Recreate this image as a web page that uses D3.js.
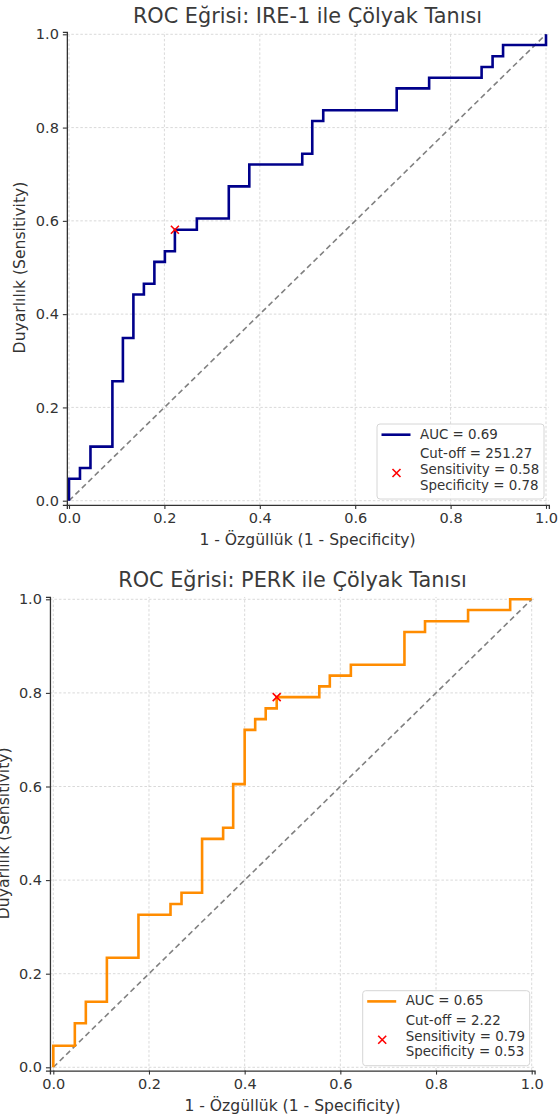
<!DOCTYPE html>
<html>
<head>
<meta charset="utf-8">
<script src="https://cdn.jsdelivr.net/npm/d3@7"></script>
<style>
  body { margin: 0; background: #fff; }
  svg { display: block; font-family: "DejaVu Sans", sans-serif; }
</style>
</head>
<body>
<svg id="chart" width="559" height="1120"></svg>
<script>
// ROC corner points
const ire1Fpr = [0, 0, 0.023, 0.023, 0.045, 0.045, 0.091, 0.091, 0.113, 0.113, 0.135, 0.135, 0.157, 0.157,
  0.179, 0.179, 0.201, 0.201, 0.222, 0.222, 0.268, 0.268, 0.335, 0.335, 0.378, 0.378, 0.489, 0.489,
  0.510, 0.510, 0.533, 0.533, 0.687, 0.687, 0.755, 0.755, 0.865, 0.865, 0.888, 0.888, 0.910, 0.910, 1.0, 1.0];
const ire1Tpr = [0, 0.047, 0.047, 0.070, 0.070, 0.116, 0.116, 0.256, 0.256, 0.349, 0.349, 0.442, 0.442, 0.465,
  0.465, 0.512, 0.512, 0.535, 0.535, 0.581, 0.581, 0.605, 0.605, 0.674, 0.674, 0.721, 0.721, 0.744,
  0.744, 0.814, 0.814, 0.837, 0.837, 0.884, 0.884, 0.907, 0.907, 0.930, 0.930, 0.953, 0.953, 0.977, 0.977, 1.0];

const perkFpr = [0, 0, 0.045, 0.045, 0.068, 0.068, 0.112, 0.112, 0.178, 0.178, 0.245, 0.245, 0.268, 0.268,
  0.311, 0.311, 0.355, 0.355, 0.376, 0.376, 0.400, 0.400, 0.422, 0.422, 0.444, 0.444, 0.467, 0.467,
  0.556, 0.556, 0.578, 0.578, 0.622, 0.622, 0.734, 0.734, 0.777, 0.777, 0.867, 0.867, 0.955, 0.955, 1.0];
const perkTpr = [0, 0.046, 0.046, 0.094, 0.094, 0.140, 0.140, 0.234, 0.234, 0.326, 0.326, 0.349, 0.349, 0.373,
  0.373, 0.488, 0.488, 0.512, 0.512, 0.605, 0.605, 0.721, 0.721, 0.744, 0.744, 0.767, 0.767, 0.791,
  0.791, 0.814, 0.814, 0.837, 0.837, 0.860, 0.860, 0.930, 0.930, 0.953, 0.953, 0.977, 0.977, 1.0, 1.0];

// best cut-off points
const ire1Cut = [0.222, 0.581];
const perkCut = [0.467, 0.791];

const tickValues = [0, 0.2, 0.4, 0.6, 0.8, 1.0];

const ire1Title = "ROC Eğrisi: IRE-1 ile Çölyak Tanısı";
const perkTitle = "ROC Eğrisi: PERK ile Çölyak Tanısı";
const xLabel = "1 - Özgüllük (1 - Specificity)";
const yLabel = "Duyarlılık (Sensitivity)";
const ire1Legend = ["AUC = 0.69", "Cut-off = 251.27", "Sensitivity = 0.58", "Specificity = 0.78"];
const perkLegend = ["AUC = 0.65", "Cut-off = 2.22", "Sensitivity = 0.79", "Specificity = 0.53"];

const svg = d3.select("#chart");
const textColor = "#333";

function drawRoc(opt) {
  // opt.x0/x1 = pixel for 0 and 1 on x, same for y
  const kx = opt.x1 - opt.x0, ky = opt.y0 - opt.y1;
  const x = d3.scaleLinear().domain([opt.xmin, opt.xmax])
    .range([opt.x0 + opt.xmin * kx, opt.x0 + opt.xmax * kx]);
  const y = d3.scaleLinear().domain([opt.ymin, opt.ymax])
    .range([opt.y0 - opt.ymin * ky, opt.y0 - opt.ymax * ky]);

  const g = svg.append("g");
  const [xl, xr] = x.range(), [yb, yt] = y.range();

  // grid
  g.append("g").selectAll("line").data(tickValues).join("line")
    .attr("x1", d => x(d)).attr("x2", d => x(d)).attr("y1", yb).attr("y2", yt)
    .attr("stroke", "#cfcfcf").attr("stroke-width", 0.8).attr("stroke-dasharray", "2.5,2");
  g.append("g").selectAll("line").data(tickValues).join("line")
    .attr("y1", d => y(d)).attr("y2", d => y(d)).attr("x1", xl).attr("x2", xr)
    .attr("stroke", "#cfcfcf").attr("stroke-width", 0.8).attr("stroke-dasharray", "2.5,2");

  // diagonal
  g.append("line")
    .attr("x1", x(0)).attr("y1", y(0)).attr("x2", x(1)).attr("y2", y(1))
    .attr("stroke", "#808080").attr("stroke-width", 1.6).attr("stroke-dasharray", "5.5,3.5");

  // roc curve
  const pts = opt.fpr.map((f, i) => [f, opt.tpr[i]]);
  g.append("path").datum(pts)
    .attr("fill", "none").attr("stroke", opt.color).attr("stroke-width", 2.6)
    .attr("d", d3.line().x(d => x(d[0])).y(d => y(d[1])));

  // cut-off marker
  const m = 4;
  const mark = g.append("g").attr("transform", `translate(${x(opt.cut[0])},${y(opt.cut[1])})`);
  mark.append("path").attr("d", `M${-m},${-m}L${m},${m}M${-m},${m}L${m},${-m}`)
    .attr("stroke", "red").attr("stroke-width", 1.6);

  // axes
  const xAxis = g.append("g").attr("transform", `translate(0,${yb})`)
    .call(d3.axisBottom(x).tickValues(tickValues).tickFormat(d3.format(".1f")).tickSizeOuter(0).tickSize(4).tickPadding(4));
  const yAxis = g.append("g").attr("transform", `translate(${xl},0)`)
    .call(d3.axisLeft(y).tickValues(tickValues).tickFormat(d3.format(".1f")).tickSizeOuter(0).tickSize(4).tickPadding(4));
  [xAxis, yAxis].forEach(a => {
    a.select(".domain").attr("stroke", "#333").attr("stroke-width", 1.3);
    a.selectAll(".tick line").attr("stroke", "#333").attr("stroke-width", 1.1);
    a.selectAll(".tick text").attr("fill", textColor).attr("font-size", 14.5)
      .attr("font-family", "DejaVu Sans");
  });

  // titles
  g.append("text").attr("x", (x(0) + x(1)) / 2).attr("y", opt.titleY)
    .attr("text-anchor", "middle").attr("font-size", 20.8).attr("fill", "#3a3a3a")
    .text(opt.title);
  g.append("text").attr("x", (x(0) + x(1)) / 2).attr("y", opt.xLabelY)
    .attr("text-anchor", "middle").attr("dominant-baseline", "middle")
    .attr("font-size", 15.6).attr("fill", textColor).text(xLabel);
  g.append("text")
    .attr("transform", `translate(${opt.yLabelX},${(y(0) + y(1)) / 2}) rotate(-90)`)
    .attr("text-anchor", "middle").attr("dominant-baseline", "middle")
    .attr("font-size", 15.6).attr("fill", textColor).text(yLabel);

  // legend
  const lg = g.append("g").attr("transform", `translate(${opt.legX},${opt.legY})`);
  lg.append("rect").attr("width", 167).attr("height", 75).attr("rx", 3)
    .attr("fill", "white").attr("fill-opacity", 0.85).attr("stroke", "#d6d6d6");
  lg.append("line").attr("x1", 4.5).attr("x2", 33.5).attr("y1", 10.7).attr("y2", 10.7)
    .attr("stroke", opt.color).attr("stroke-width", 2.6);
  lg.append("path").attr("transform", "translate(19.5,49)")
    .attr("d", `M${-m},${-m}L${m},${m}M${-m},${m}L${m},${-m}`)
    .attr("stroke", "red").attr("stroke-width", 1.6);
  const rows = [10.7, 30, 46, 61.5];
  lg.selectAll("text.leg").data(opt.legend).join("text").attr("class", "leg")
    .attr("x", 43).attr("y", (d, i) => rows[i])
    .attr("dominant-baseline", "middle").attr("font-size", 13.4).attr("fill", textColor)
    .text(d => d);
}

drawRoc({
  fpr: ire1Fpr, tpr: ire1Tpr, cut: ire1Cut, color: "#00008b", title: ire1Title, legend: ire1Legend,
  x0: 69, x1: 546, y0: 500.7, y1: 34.3,
  xmin: -0.0045, xmax: 1.006, ymin: -0.009, ymax: 1.005,
  titleY: 22.7, xLabelY: 540, yLabelX: 20, legX: 377, legY: 424
});

drawRoc({
  fpr: perkFpr, tpr: perkTpr, cut: perkCut, color: "#ff8c00", title: perkTitle, legend: perkLegend,
  x0: 53.3, x1: 531.7, y0: 1067.3, y1: 599.3,
  xmin: -0.007, xmax: 1.006, ymin: -0.007, ymax: 1.005,
  titleY: 586.7, xLabelY: 1106, yLabelX: 4, legX: 362.7, legY: 990.7
});
</script>
</body>
</html>
